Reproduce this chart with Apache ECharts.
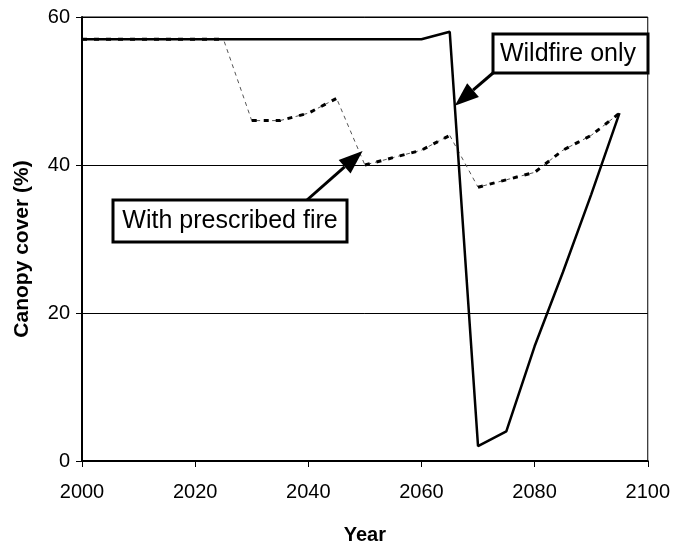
<!DOCTYPE html>
<html>
<head>
<meta charset="utf-8">
<script src="https://cdn.jsdelivr.net/npm/echarts@6/dist/echarts.min.js"></script>
<style>
html,body{margin:0;padding:0;background:#fff;}
#c{width:673px;height:550px;}
</style>
</head>
<body>
<div id="c"></div>
<script>
const years = [2000,2005,2010,2015,2020,2025,2030,2035,2040,2045,2050,2055,2060,2065,2070,2075,2080,2085,2090,2095];
const wildfireOnly = [57,57,57,57,57,57,57,57,57,57,57,57,57,58,2,4,15.5,25.5,36,47];
const withPrescribed = [57,57,57,57,57,57,46,46,47,49,40,41,42,44,37,38,39,42,44,47];
const xTicks = [2000,2020,2040,2060,2080,2100];
const yTicks = [0,20,40,60];
const labelWildfire = 'Wildfire only';
const labelPrescribed = 'With prescribed fire';
const arrowWildfireTip = [2065.9, 48];
const arrowPrescribedTip = [2049.6, 41.9];

const chart = echarts.init(document.getElementById('c'), null, {renderer:'canvas'});
const FONT = 'Liberation Sans, Arial, sans-serif';

// split prescribed series into recovery runs (thick dotted) separated by fire drops
const runs = [];
let cur = [[years[0], withPrescribed[0]]];
for (let i = 1; i < years.length; i++) {
  if (withPrescribed[i] < withPrescribed[i-1] - 3) {
    runs.push(cur);
    cur = [];
  }
  cur.push([years[i], withPrescribed[i]]);
}
runs.push(cur);

const series = [];
series.push({
  type:'line', data: years.map((y,i)=>[y, withPrescribed[i]]), symbol:'none',
  lineStyle:{color:'#555', width:1, type:[4,4]}, z:2, silent:true
});
runs.forEach(r => series.push({
  type:'line', data:r, symbol:'none',
  lineStyle:{color:'#000', width:3, type:[5,7]}, z:3, silent:true
}));
series.push({
  type:'line', data: years.map((y,i)=>[y, wildfireOnly[i]]), symbol:'none',
  lineStyle:{color:'#000', width:2.5}, z:4, silent:true
});

chart.setOption({
  animation:false,
  backgroundColor:'#fff',
  grid:{left:82, right:25, top:17, bottom:84, show:true, borderColor:'#000', borderWidth:1, containLabel:false},
  xAxis:{
    type:'value', min:xTicks[0], max:xTicks[xTicks.length-1], interval:20,
    name:'Year', nameLocation:'middle', nameGap:64,
    nameTextStyle:{fontFamily:FONT, fontSize:20, fontWeight:'bold', color:'#000'},
    axisLine:{show:true, lineStyle:{color:'#000', width:2}},
    axisTick:{show:true, length:6, lineStyle:{color:'#000', width:1}},
    axisLabel:{fontFamily:FONT, fontSize:20, color:'#000', margin:21, formatter:function(v){return String(v);}},
    splitLine:{show:false}
  },
  yAxis:{
    type:'value', min:yTicks[0], max:yTicks[yTicks.length-1], interval:20,
    name:'Canopy cover (%)', nameLocation:'middle', nameGap:49, nameRotate:90,
    nameTextStyle:{fontFamily:FONT, fontSize:21, fontWeight:'bold', color:'#000', padding:[0,20,0,0]},
    axisLine:{show:true, lineStyle:{color:'#000', width:2}},
    axisTick:{show:true, length:6, lineStyle:{color:'#000', width:1}},
    axisLabel:{fontFamily:FONT, fontSize:20, color:'#000', margin:12},
    splitLine:{show:true, lineStyle:{color:'#000', width:1}}
  },
  series: series
});

function arrow(tail, tip, id) {
  const dx = tip[0]-tail[0], dy = tip[1]-tail[1];
  const len = Math.sqrt(dx*dx+dy*dy);
  const ux = dx/len, uy = dy/len;
  const hl = 24, hw = 9;
  const bx = tip[0]-ux*hl, by = tip[1]-uy*hl;
  return [
    {type:'line', id:id+'l', shape:{x1:tail[0], y1:tail[1], x2:bx, y2:by}, style:{stroke:'#000', lineWidth:3}, z:10},
    {type:'polygon', id:id+'h', shape:{points:[[tip[0],tip[1]],[bx-uy*hw, by+ux*hw],[bx+uy*hw, by-ux*hw]]}, style:{fill:'#000'}, z:10}
  ];
}

const tipW = chart.convertToPixel({xAxisIndex:0, yAxisIndex:0}, arrowWildfireTip);
const tipP = chart.convertToPixel({xAxisIndex:0, yAxisIndex:0}, arrowPrescribedTip);

chart.setOption({
  graphic: [
    {type:'rect', id:'bw', shape:{x:493, y:34, width:155, height:39}, style:{fill:'#fff', stroke:'#000', lineWidth:3}, z:11},
    {type:'text', id:'tw', x:568, y:54, style:{text:labelWildfire, font:'25px '+FONT, fill:'#000', align:'center', verticalAlign:'middle'}, z:12},
    {type:'rect', id:'bp', shape:{x:113, y:200, width:234, height:42}, style:{fill:'#fff', stroke:'#000', lineWidth:3}, z:11},
    {type:'text', id:'tp', x:230, y:221, style:{text:labelPrescribed, font:'25px '+FONT, fill:'#000', align:'center', verticalAlign:'middle'}, z:12}
  ].concat(arrow([493,73], tipW, 'aw')).concat(arrow([307,200], tipP, 'ap'))
});
</script>
</body>
</html>
